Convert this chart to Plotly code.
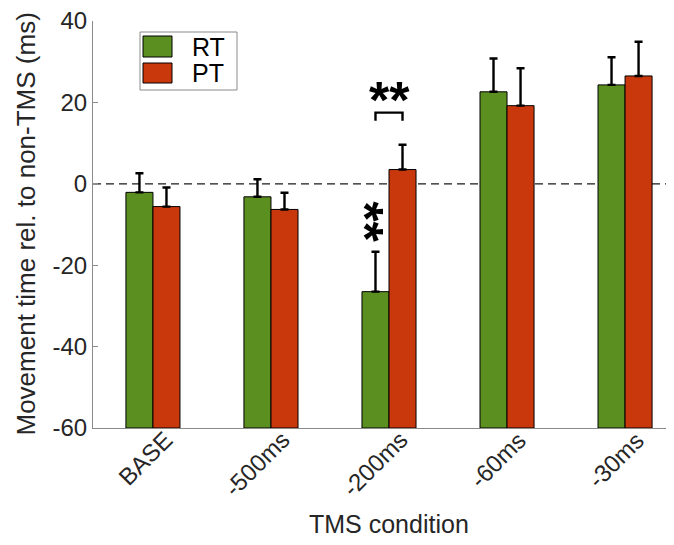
import plotly.graph_objects as go

conditions = ["BASE", "-500ms", "-200ms", "-60ms", "-30ms"]
rt_mean = [-2.1, -3.2, -26.5, 22.6, 24.3]
rt_err = [4.7, 4.3, 9.8, 8.2, 6.8]
pt_mean = [-5.6, -6.3, 3.5, 19.2, 26.5]
pt_err = [4.7, 4.1, 6.1, 9.2, 8.4]
y_ticks = [-60, -40, -20, 0, 20, 40]
y_min, y_max = -60, 40

GREEN = "#5b8f20"
RED = "#c9370c"
FONT = "Liberation Sans, Arial, Helvetica, sans-serif"
TXT = "#262626"

W, H = 658, 529
ML, MT, MB = 85, 13, 109          # plot area in figure pixels
PLOT_W = W - ML
PLOT_H = H - MT - MB

xpos = list(range(len(conditions)))
bar_w = 0.229

fig = go.Figure()
fig.add_trace(go.Bar(
    x=xpos, y=[v - y_min for v in rt_mean], base=y_min, name="RT",
    marker=dict(color=GREEN, line=dict(color="black", width=1)),
    error_y=dict(type="data", symmetric=False, array=rt_err, arrayminus=[0] * len(rt_err),
                 color="black", thickness=2.4, width=4),
))
fig.add_trace(go.Bar(
    x=xpos, y=[v - y_min for v in pt_mean], base=y_min, name="PT",
    marker=dict(color=RED, line=dict(color="black", width=1)),
    error_y=dict(type="data", symmetric=False, array=pt_err, arrayminus=[0] * len(pt_err),
                 color="black", thickness=2.4, width=4),
))

# zero reference line
fig.add_shape(type="line", xref="paper", x0=0, x1=1, yref="y", y0=0, y1=0,
              line=dict(color="#1a1a1a", width=1.2, dash="8px,5px"), layer="below")

# significance bracket for -200ms
i = 2
xl = xpos[i] - bar_w / 2
xr = xpos[i] + bar_w / 2
ytop = pt_mean[i] + pt_err[i] + 7.9
fig.add_shape(type="path",
              path=f"M {xl} {ytop-2} L {xl} {ytop} L {xr} {ytop} L {xr} {ytop-2}",
              line=dict(color="black", width=2.4))
fig.add_annotation(x=xpos[i], y=ytop + 5.1, text="<b>**</b>", showarrow=False,
                   font=dict(family=FONT, size=52, color="black"), yshift=-8)
fig.add_annotation(x=xl, y=rt_mean[i] + rt_err[i] + 7.4, text="<b>**</b>", showarrow=False,
                   textangle=90, font=dict(family=FONT, size=52, color="black"), xshift=-10)


def px_x(p):
    return (p - ML) / PLOT_W


def px_y(p):
    return (MT + PLOT_H - p) / PLOT_H


# legend (drawn manually to match the large swatches)
fig.add_shape(type="rect", xref="paper", yref="paper",
              x0=px_x(132), x1=px_x(229), y0=px_y(82), y1=px_y(24),
              line=dict(color="#8a8a8a", width=1), fillcolor="white")
for name, col, top, bot in [("RT", GREEN, 28, 49), ("PT", RED, 55, 75)]:
    fig.add_shape(type="rect", xref="paper", yref="paper",
                  x0=px_x(135), x1=px_x(164), y0=px_y(bot), y1=px_y(top),
                  line=dict(color="black", width=1), fillcolor=col)
    fig.add_annotation(xref="paper", yref="paper", x=px_x(182), y=px_y((top + bot) / 2),
                       xanchor="left", yanchor="middle", text=name, showarrow=False,
                       font=dict(family=FONT, size=25, color="black"))

# rotated category labels
for xp, lab in zip(xpos, conditions):
    fig.add_annotation(x=xp, y=0, yref="paper", text=lab, showarrow=False, textangle=-45,
                       xanchor="right", yanchor="top", xshift=27, yshift=5,
                       font=dict(family=FONT, size=24, color=TXT))

# axis titles
fig.add_annotation(xref="paper", yref="paper", x=0, y=0.5, xshift=-68, textangle=-90,
                   xanchor="center", yanchor="middle",
                   text="Movement time rel. to non-TMS (ms)", showarrow=False,
                   font=dict(family=FONT, size=26, color=TXT))
fig.add_annotation(xref="x", yref="paper", x=2, y=0, yshift=-96,
                   xanchor="center", yanchor="middle",
                   text="TMS condition", showarrow=False,
                   font=dict(family=FONT, size=25, color=TXT))

fig.update_layout(
    width=W, height=H,
    margin=dict(l=ML, r=0, t=MT, b=MB, autoexpand=False),
    plot_bgcolor="white", paper_bgcolor="white",
    barmode="group", bargap=0.542, bargroupgap=0,
    showlegend=False,
    font=dict(family=FONT, color=TXT),
    xaxis=dict(
        tickmode="array", tickvals=xpos, ticktext=["" for _ in conditions],
        range=[-0.508, 4.347], showline=True, linecolor="#8a8a8a", linewidth=1,
        ticks="", automargin=False, showgrid=False, zeroline=False,
    ),
    yaxis=dict(
        range=[y_min, y_max], tickmode="array", tickvals=y_ticks,
        ticktext=[str(t) for t in y_ticks], ticklabeloverflow="allow",
        showline=True, linecolor="#8a8a8a", linewidth=1,
        ticks="inside", ticklen=5, tickcolor="#8a8a8a",
        tickfont=dict(family=FONT, size=24, color=TXT), automargin=False,
        showgrid=False, zeroline=False,
    ),
)

fig.write_html("out.html")
